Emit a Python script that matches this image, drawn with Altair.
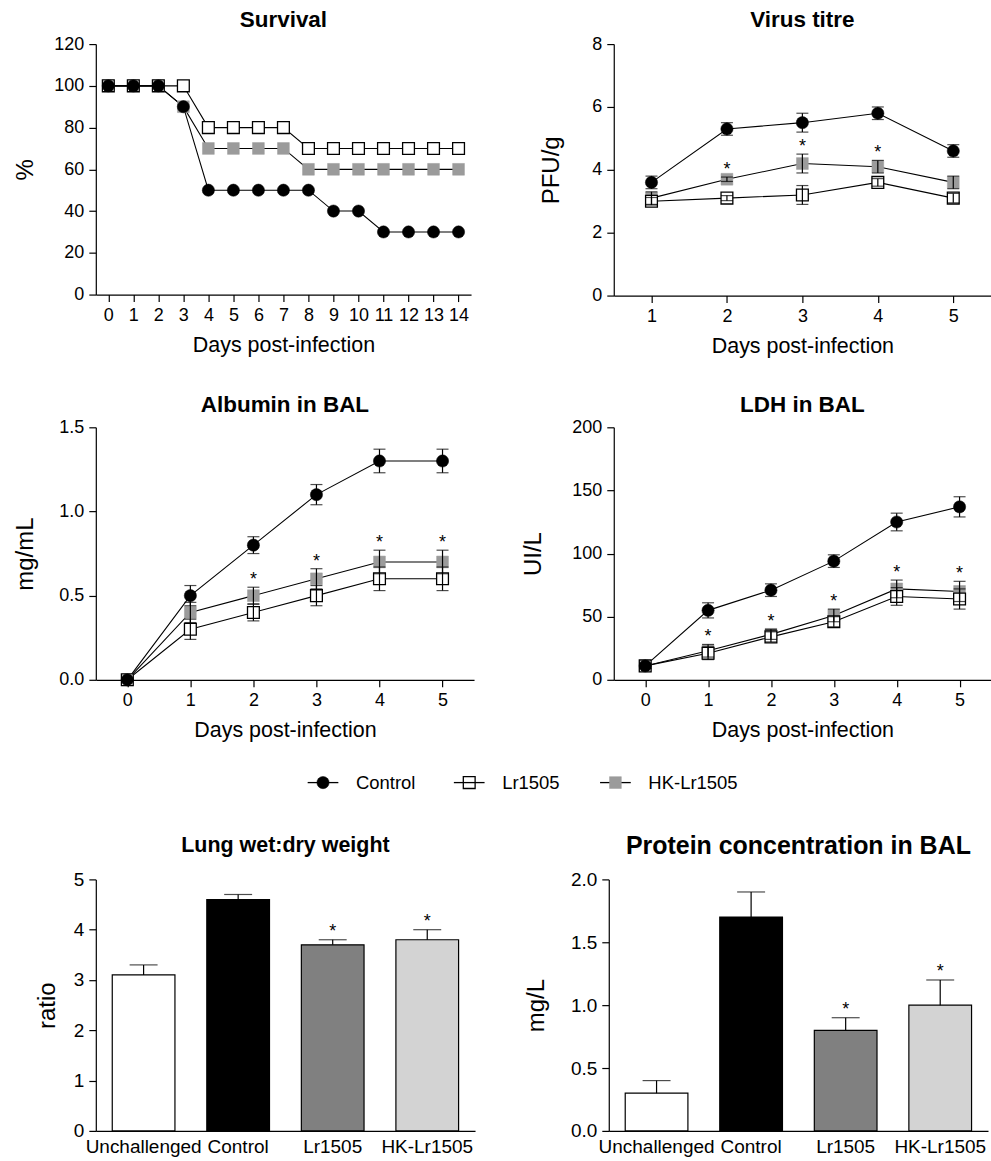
import altair as alt
import pandas as pd

FONT = "Liberation Sans"
SERIES = ["Control", "Lr1505", "HK-Lr1505"]
SERIES_FILL = ["black", "white", "#9b9b9b"]
SERIES_STROKE = ["black", "black", "#9b9b9b"]
SERIES_SHAPE = ["circle", "square", "square"]

# ---------------- Survival (%)
surv_days = list(range(15))
surv_control = [100, 100, 100, 90, 50, 50, 50, 50, 50, 40, 40, 30, 30, 30, 30]
surv_lr = [100, 100, 100, 100, 80, 80, 80, 80, 70, 70, 70, 70, 70, 70, 70]
surv_hk = [100, 100, 100, 90, 70, 70, 70, 70, 60, 60, 60, 60, 60, 60, 60]

# ---------------- Virus titre (PFU/g)
virus_days = [1, 2, 3, 4, 5]
virus_control = [3.6, 5.3, 5.5, 5.8, 4.6]
virus_control_err = [0.2, 0.2, 0.3, 0.2, 0.2]
virus_lr = [3.0, 3.1, 3.2, 3.6, 3.1]
virus_lr_err = [0.12, 0.08, 0.3, 0.12, 0.15]
virus_hk = [3.1, 3.7, 4.2, 4.1, 3.6]
virus_hk_err = [0.2, 0.07, 0.3, 0.2, 0.2]
virus_star = [0, 1, 1, 1, 0]

# ---------------- Albumin in BAL (mg/mL)
alb_days = [0, 1, 2, 3, 4, 5]
alb_control = [0.0, 0.5, 0.8, 1.1, 1.3, 1.3]
alb_control_err = [0.0, 0.06, 0.05, 0.06, 0.07, 0.07]
alb_lr = [0.0, 0.3, 0.4, 0.5, 0.6, 0.6]
alb_lr_err = [0.0, 0.06, 0.05, 0.06, 0.07, 0.07]
alb_hk = [0.0, 0.4, 0.5, 0.6, 0.7, 0.7]
alb_hk_err = [0.0, 0.06, 0.05, 0.06, 0.07, 0.07]
alb_star = [0, 0, 1, 1, 1, 1]

# ---------------- LDH in BAL (UI/L)
ldh_days = [0, 1, 2, 3, 4, 5]
ldh_control = [11, 55, 71, 94, 125, 137]
ldh_control_err = [2, 6, 5, 5, 7, 8]
ldh_lr = [11, 21, 34, 46, 66, 64]
ldh_lr_err = [2, 5, 4, 4, 7, 8]
ldh_hk = [11, 23, 36, 51, 72, 70]
ldh_hk_err = [2, 5, 4, 5, 7, 8]
ldh_star = [0, 1, 1, 1, 1, 1]

# ---------------- Bar panels
bar_groups = ["Unchallenged", "Control", "Lr1505", "HK-Lr1505"]
bar_fill = ["white", "black", "#808080", "#d3d3d3"]
wet_dry = [3.1, 4.6, 3.7, 3.8]
wet_dry_err = [0.2, 0.1, 0.1, 0.2]
wet_dry_star = [0, 0, 1, 1]
protein = [0.3, 1.7, 0.8, 1.0]
protein_err = [0.1, 0.2, 0.1, 0.2]
protein_star = [0, 0, 1, 1]


def long_df(days, series_vals, series_errs, stars):
    rows = []
    for name, vals, errs in zip(SERIES, series_vals, series_errs):
        for i, d in enumerate(days):
            e = errs[i] if errs else 0
            rows.append({
                "day": d, "series": name, "mean": vals[i],
                "lo": vals[i] - e, "hi": vals[i] + e,
                "star": "*" if (name == "HK-Lr1505" and stars and stars[i]) else "",
            })
    return pd.DataFrame(rows)


def panel_title(text, size=22.5, offset=4):
    return alt.TitleParams(text=text, fontSize=size, fontWeight="bold", font=FONT,
                           anchor="middle", frame="group", color="black", offset=offset)


def line_panel(df, title, ytitle, ydom, yticks, yfmt, xdom, xticks, w, h,
               yext, ytp, toff, show_err=True):
    xsc = alt.Scale(domain=xdom, nice=False, zero=False)
    ysc = alt.Scale(domain=ydom, nice=False, zero=False)
    xax = alt.Axis(values=xticks, format="d", title="Days post-infection", titlePadding=10)
    yax = alt.Axis(values=yticks, format=yfmt, title=ytitle, titleFontSize=24,
                   minExtent=yext, maxExtent=yext, titlePadding=ytp)

    def X(f="day"):
        return alt.X(f"{f}:Q", scale=xsc, axis=xax)

    def Y(f):
        return alt.Y(f"{f}:Q", scale=ysc, axis=yax)

    base = alt.Chart(df)
    layers = [base.mark_line(color="black", strokeWidth=1.1).encode(
        x=X(), y=Y("mean"), detail="series:N", order="day:Q")]
    for name, fill, stroke, shape in reversed(list(zip(SERIES, SERIES_FILL, SERIES_STROKE, SERIES_SHAPE))):
        layers.append(base.transform_filter(alt.datum.series == name).mark_point(
            shape=shape, filled=True, fill=fill, stroke=stroke,
            strokeWidth=1.3 if name == "Lr1505" else 0.5,
            size=150 if shape == "circle" else 140, opacity=1).encode(x=X(), y=Y("mean")))
    if show_err:
        layers.append(base.mark_rule(color="black", strokeWidth=1.2).encode(
            x=X(), y=Y("lo"), y2="hi:Q"))
        for f in ["lo", "hi"]:
            layers.append(base.mark_tick(orient="horizontal", size=12, thickness=1.2,
                                         color="black").encode(x=X(), y=Y(f)))
        layers.append(base.transform_filter("datum.star == '*'").mark_text(
            fontSize=18, font=FONT, color="black", baseline="alphabetic", dy=-2).encode(
            x=X(), y=Y("hi"), text="star:N"))
    return alt.layer(*layers).properties(width=w, height=h, title=panel_title(title, offset=toff))


def bar_panel(vals, errs, stars, title, ytitle, ydom, yticks, yfmt, w, h, yext, ytp,
              tsize, toff):
    df = pd.DataFrame({
        "group": bar_groups, "val": vals,
        "hi": [v + e for v, e in zip(vals, errs)],
        "star": ["*" if s else "" for s in stars],
    })
    xsc = alt.Scale(domain=bar_groups, paddingInner=0.337, paddingOuter=0.174)
    ysc = alt.Scale(domain=ydom, nice=False, zero=True)
    xax = alt.Axis(labelAngle=0, ticks=False, title=None, labelFontSize=19, labelPadding=7)
    yax = alt.Axis(values=yticks, format=yfmt, title=ytitle, titleFontSize=24,
                   minExtent=yext, maxExtent=yext, titlePadding=ytp, labelFontSize=19)

    def X():
        return alt.X("group:N", sort=bar_groups, scale=xsc, axis=xax)

    def Y(f):
        return alt.Y(f"{f}:Q", scale=ysc, axis=yax)

    base = alt.Chart(df)
    bars = base.mark_bar(stroke="black", strokeWidth=1.2).encode(
        x=X(), y=Y("val"),
        fill=alt.Fill("group:N", scale=alt.Scale(domain=bar_groups, range=bar_fill), legend=None))
    rule = base.mark_rule(color="black", strokeWidth=1.2).encode(x=X(), y=Y("val"), y2="hi:Q")
    cap = base.mark_tick(orient="horizontal", size=28, thickness=1.2, color="black").encode(
        x=X(), y=Y("hi"))
    star = base.transform_filter("datum.star == '*'").mark_text(
        fontSize=18, font=FONT, color="black", baseline="alphabetic", dy=-3).encode(
        x=X(), y=Y("hi"), text="star:N")
    return alt.layer(bars, rule, cap, star).properties(
        width=w, height=h, title=panel_title(title, tsize, toff))


surv = line_panel(long_df(surv_days, [surv_control, surv_lr, surv_hk], [None, None, None], None),
                  "Survival", "%", [0, 120], [0, 20, 40, 60, 80, 100, 120], "d",
                  [-0.5, 14.5], surv_days, 376, 251, 44, 14, 4, show_err=False)
virus = line_panel(long_df(virus_days, [virus_control, virus_lr, virus_hk],
                           [virus_control_err, virus_lr_err, virus_hk_err], virus_star),
                   "Virus titre", "PFU/g", [0, 8], [0, 2, 4, 6, 8], "d",
                   [0.5, 5.5], virus_days, 378, 252, 24, 26, 4)
alb = line_panel(long_df(alb_days, [alb_control, alb_lr, alb_hk],
                         [alb_control_err, alb_lr_err, alb_hk_err], alb_star),
                 "Albumin in BAL", "mg/mL", [0, 1.5], [0, 0.5, 1.0, 1.5], ".1f",
                 [-0.5, 5.5], alb_days, 379, 253, 44, 14, 2)
ldh = line_panel(long_df(ldh_days, [ldh_control, ldh_lr, ldh_hk],
                         [ldh_control_err, ldh_lr_err, ldh_hk_err], ldh_star),
                 "LDH in BAL", "UI/L", [0, 200], [0, 50, 100, 150, 200], "d",
                 [-0.5, 5.5], ldh_days, 378, 253, 44, 24, 2)
wet = bar_panel(wet_dry, wet_dry_err, wet_dry_star, "Lung wet:dry weight", "ratio",
                [0, 5], [0, 1, 2, 3, 4, 5], "d", 380, 252, 24, 12, 21.5, 14)
prot = bar_panel(protein, protein_err, protein_star, "Protein concentration in BAL", "mg/L",
                 [0, 2], [0, 0.5, 1.0, 1.5, 2.0], ".1f", 380, 252, 44, 16, 25, 11)

# ---------------- Legend row
LEG_W = 600
LEG_Y = 11
LEG_STEP = 146.5
leg_df = pd.DataFrame({"series": SERIES, "idx": [0, 1, 2]})
lx = alt.Scale(domain=[-1.554, -1.554 + LEG_W / LEG_STEP], nice=False, zero=False)
legend_layers = [
    alt.Chart(leg_df).transform_calculate(a="datum.idx - 0.105", b="datum.idx + 0.105")
    .mark_rule(color="black", strokeWidth=1.3)
    .encode(x=alt.X("a:Q", scale=lx, axis=None), x2="b:Q", y=alt.value(LEG_Y))
]
for name, fill, stroke, shape in zip(SERIES, SERIES_FILL, SERIES_STROKE, SERIES_SHAPE):
    legend_layers.append(
        alt.Chart(leg_df).transform_filter(alt.datum.series == name).mark_point(
            shape=shape, filled=True, fill=fill, stroke=stroke,
            fillOpacity=0 if name == "Lr1505" else 1,
            strokeWidth=1.3 if name == "Lr1505" else 0.5,
            size=150 if shape == "circle" else 140, opacity=1)
        .encode(x=alt.X("idx:Q", scale=lx, axis=None), y=alt.value(LEG_Y)))
legend_layers.append(
    alt.Chart(leg_df).mark_text(align="left", dx=33, fontSize=18.5, font=FONT, color="black")
    .encode(x=alt.X("idx:Q", scale=lx, axis=None), y=alt.value(LEG_Y), text="series:N"))
legend = alt.layer(*legend_layers).properties(width=LEG_W, height=24)

row1 = alt.hconcat(surv, virus, spacing=69)
row2 = alt.hconcat(alb, ldh, spacing=48)
row3 = alt.hconcat(wet, prot, spacing=50)

top = alt.vconcat(row1, row2, spacing=36)
bottom = alt.vconcat(legend, row3, spacing=39)

chart = alt.vconcat(top, bottom, spacing=30).properties(
    padding={"left": 14, "top": 7, "right": 0, "bottom": 0}
).configure_view(stroke=None).configure_axis(
    domainColor="black", tickColor="black", labelColor="black", titleColor="black",
    grid=False, labelFont=FONT, titleFont=FONT, labelFontSize=18, titleFontSize=21.5,
    titleFontWeight="normal", tickSize=7, labelPadding=5, domainWidth=1.2, tickWidth=1.2,
)

chart.save("out.html", embed_options={"renderer": "svg", "actions": False})
